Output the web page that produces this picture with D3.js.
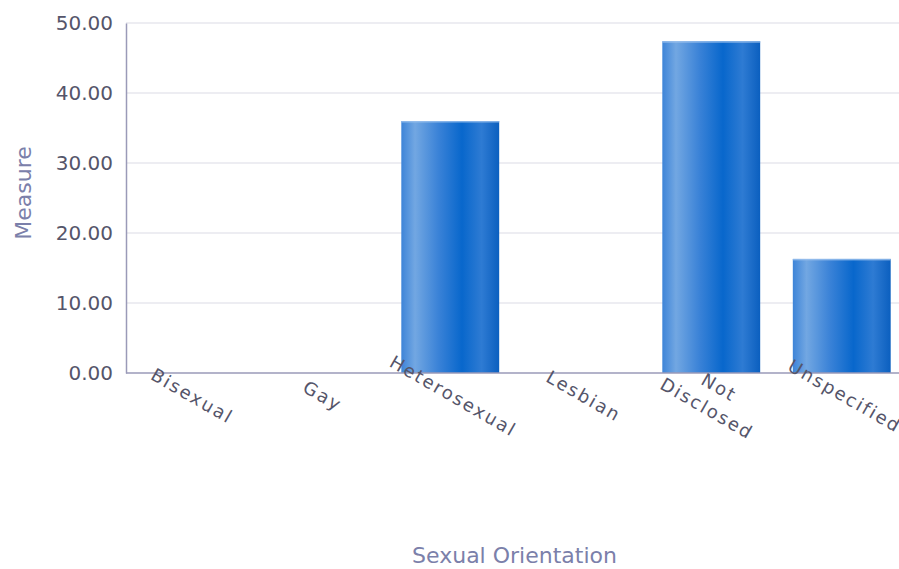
<!DOCTYPE html>
<html><head><meta charset="utf-8">
<script src="https://cdn.jsdelivr.net/npm/d3@7"></script>
<style>body{margin:0;background:#fff;overflow:hidden}svg{display:block}</style>
</head><body>
<svg id="c" width="899" height="569"></svg>
<script>
const categories = ["Bisexual","Gay","Heterosexual","Lesbian","Not Disclosed","Unspecified"];
const values = [0, 0, 36.0, 0, 47.4, 16.3];
const yTicks = [0,10,20,30,40,50];
const xTitle = "Sexual Orientation";
const yTitle = "Measure";

const svg = d3.select("#c");
const mLeft = 126, mTop = 23, mBottom = 373, band = 130.5, bandStart = 124;
const x = d3.scaleBand().domain(categories).range([bandStart, bandStart + band*categories.length]).paddingInner(0.25).paddingOuter(0.125);
const y = d3.scaleLinear().domain([0,50]).range([mBottom, mTop]);

const defs = svg.append("defs");
const g = defs.append("linearGradient").attr("id","bg").attr("x1","0").attr("x2","1").attr("y1","0").attr("y2","0");
[["0%","#3d84d8"],["14%","#72a7e2"],["38%","#3a82d7"],["62%","#0867cc"],["82%","#2e7bd3"],["100%","#0b5fbf"]]
  .forEach(([o,c])=>g.append("stop").attr("offset",o).attr("stop-color",c));

// gridlines
svg.append("g").selectAll("line").data(yTicks.filter(t=>t>0)).join("line")
  .attr("x1",mLeft).attr("x2",899).attr("y1",d=>y(d)).attr("y2",d=>y(d))
  .attr("stroke","#dcdce6").attr("stroke-width",1.2);

// bars
const bars = svg.append("g").selectAll("g").data(categories.map((c,i)=>({c,v:values[i]})).filter(d=>d.v>0)).join("g");
bars.append("rect").attr("x",d=>x(d.c)).attr("width",x.bandwidth())
  .attr("y",d=>y(d.v)).attr("height",d=>mBottom-y(d.v)).attr("fill","url(#bg)");
bars.append("rect").attr("x",d=>x(d.c)).attr("width",x.bandwidth())
  .attr("y",d=>y(d.v)).attr("height",1.5).attr("fill","#9cc2ee").attr("opacity",0.8);

// axes
const yAxis = d3.axisLeft(y).tickValues(yTicks).tickFormat(d3.format(".2f")).tickSize(0).tickPadding(13);
const ya = svg.append("g").attr("transform",`translate(${mLeft},0)`).call(yAxis);
ya.select(".domain").attr("stroke","#9a9ab8").attr("stroke-width",1.5);
ya.selectAll("text").attr("font-family","DejaVu Sans").attr("font-size",20).attr("fill","#55556a");

svg.append("line").attr("x1",mLeft).attr("x2",899).attr("y1",mBottom).attr("y2",mBottom).attr("stroke","#9a9ab8").attr("stroke-width",1.5);

const xl = svg.append("g");
categories.forEach(c=>{
  const cx = x(c) + x.bandwidth()/2;
  const lines = c === "Not Disclosed" ? ["Not","Disclosed"] : [c];
  const t = xl.append("text").attr("transform",`translate(${cx + 3},${396}) rotate(30)`)
    .attr("text-anchor","middle").attr("font-family","DejaVu Sans").attr("font-size",18)
    .attr("letter-spacing","2px").attr("fill","#55556a");
  lines.forEach((l,i)=>t.append("tspan").attr("x",0).attr("dy", i===0 ? (lines.length>1 ? "-0.2em" : "0.35em") : "1.35em").text(l));
});

svg.append("text").attr("x",(mLeft+899)/2+2).attr("y",563).attr("text-anchor","middle")
  .attr("font-family","DejaVu Sans").attr("font-size",22).attr("fill","#7b80aa").text(xTitle);
svg.append("text").attr("transform","translate(31,193) rotate(-90)").attr("text-anchor","middle")
  .attr("font-family","DejaVu Sans").attr("font-size",22).attr("fill","#7b80aa").text(yTitle);
</script>
</body></html>
